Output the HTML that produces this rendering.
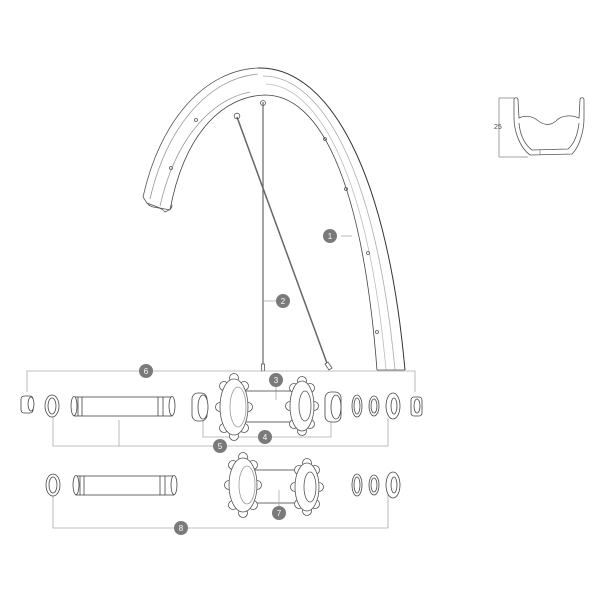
<!DOCTYPE html>
<html><head><meta charset="utf-8"><style>
html,body{margin:0;padding:0;background:#fff;width:600px;height:600px;overflow:hidden}
</style></head><body>
<svg width="600" height="600" viewBox="0 0 600 600" xmlns="http://www.w3.org/2000/svg" font-family="Liberation Sans, sans-serif">
<g fill="none" stroke="#555" stroke-width="0.8">
<path d="M143 197 C160 120 205 70 258 68" />
<path d="M150 199 C167 125 210 78 258 74" stroke="#999"/>
<path d="M258 68 C320 66 385 150 405 370" stroke="#333" stroke-width="1"/>
<path d="M263 76 C318 76 375 160 395 370" stroke="#aaa"/>
<path d="M266 84 C316 86 368 170 386 370" stroke="#bbb"/>
<path d="M170 210 C185 130 225 96 265 95 C318 95 362 175 377 370" stroke="#444"/>
<path d="M160 206 C175 140 210 100 250 92" stroke="#999"/>
<path d="M143 197 L147 203 L160 208 L170 210 M377 370 L405 370"/>
<path d="M147 203 C152 210 160 205 165 212 C168 210 172 210 172 205"/>
<circle cx="196" cy="120" r="1.5"/><circle cx="171" cy="168" r="1.5"/>
<circle cx="325" cy="139" r="1.5"/><circle cx="346" cy="189" r="1.5"/>
<circle cx="368" cy="253" r="1.5"/><circle cx="377" cy="332" r="1.5"/>
<line x1="263" y1="102" x2="263" y2="368" stroke="#666" stroke-width="1.2"/>
<line x1="237" y1="117" x2="328" y2="366" stroke="#666" stroke-width="1.5"/>
<rect x="261.5" y="364" width="3" height="7" fill="#fff"/>
<path d="M325 364 L329 370 L332 368 L328 362 Z" fill="#fff"/>
<circle cx="263" cy="103" r="2.5"/><circle cx="237" cy="116" r="2.8"/>
<path d="M514 100 L514 118 C514 128 518 146 530 155 L572 154 C581 145 584 128 584 118 L584 100 C584 97 580 97 580 100 L579 118 C570 114 560 116 556 121 C549 127 542 124 537 120 C532 116 525 115 519 118 L518 100 C518 97 514 97 514 100 Z"/>
<path d="M519 123 C520 134 524 144 532 150 L568 149 C575 143 578 132 579 123"/>
<line x1="540" y1="150" x2="540" y2="155" stroke="#888"/>
<line x1="499" y1="98" x2="514" y2="98" stroke="#888"/><line x1="499" y1="157" x2="528" y2="157" stroke="#888"/>
<line x1="499" y1="98" x2="499" y2="157" stroke="#888"/>
</g>
<text x="494" y="129" font-size="7" fill="#444">25</text>
<g fill="none" stroke="#aaa" stroke-width="0.8">
<polyline points="341,236 352,236"/>
<polyline points="264,301 276,301 M290,301 301,301"/>
<polyline points="27,392 27,371 415,371 415,392"/>
<polyline points="276,387 276,398"/>
<polyline points="203,420 203,437 331,437 331,420"/>
<polyline points="53,415 53,446 388,446 388,418"/>
<polyline points="119,420 119,446 M357,418 357,446 M374,418 374,446"/>
<polyline points="53,495 53,528 388,528 388,495 M105,490 105,528 M357,495 357,528 M374,495 374,528"/>
<polyline points="279,490 279,508"/>
</g>
<g fill="#fff" stroke="#444" stroke-width="0.8">
<rect x="21" y="396" width="12" height="17" rx="3"/><ellipse cx="31" cy="404" rx="3" ry="7"/>
<ellipse cx="52" cy="406" rx="7" ry="11"/><ellipse cx="52" cy="406" rx="4" ry="8"/>
<rect x="74" y="397" width="98" height="19" fill="#fff"/>
<ellipse cx="74" cy="406" rx="3" ry="9.5"/><ellipse cx="172" cy="406" rx="3" ry="9.5"/>
<line x1="78" y1="397" x2="78" y2="416"/><line x1="82" y1="397" x2="82" y2="416"/>
<line x1="158" y1="397" x2="158" y2="416"/><line x1="163" y1="397" x2="163" y2="416"/>
<rect x="192" y="393" width="15" height="28" rx="6"/><ellipse cx="203" cy="407" rx="5" ry="12"/>
<rect x="240" y="391" width="58" height="31"/>
<line x1="276" y1="391" x2="276" y2="400" stroke="#aaa"/>
</g>
<g fill="#fff" stroke="#555" stroke-width="0.8">
<circle cx="248" cy="407" r="4.5"/><circle cx="244" cy="428" r="4.5"/><circle cx="234" cy="436" r="4.5"/><circle cx="224" cy="428" r="4.5"/><circle cx="220" cy="407" r="4.5"/><circle cx="224" cy="386" r="4.5"/><circle cx="234" cy="378" r="4.5"/><circle cx="244" cy="386" r="4.5"/>
<ellipse cx="234" cy="407" rx="14" ry="28"/><ellipse cx="238" cy="407" rx="8" ry="20" stroke="#999"/>
<circle cx="314" cy="406" r="4.5"/><circle cx="310" cy="424" r="4.5"/><circle cx="302" cy="431" r="4.5"/><circle cx="294" cy="424" r="4.5"/><circle cx="290" cy="406" r="4.5"/><circle cx="294" cy="388" r="4.5"/><circle cx="302" cy="381" r="4.5"/><circle cx="310" cy="388" r="4.5"/>
<ellipse cx="302" cy="406" rx="12" ry="25"/><ellipse cx="305" cy="406" rx="6" ry="15"/>
</g>
<g fill="#fff" stroke="#444" stroke-width="0.8">
<rect x="325" y="392" width="16" height="30" rx="6"/><ellipse cx="336" cy="407" rx="5" ry="12"/>
<ellipse cx="357" cy="406" rx="5" ry="11"/><ellipse cx="357" cy="406" rx="3" ry="8"/>
<ellipse cx="374" cy="406" rx="5" ry="10"/><ellipse cx="374" cy="406" rx="3" ry="7"/>
<ellipse cx="393" cy="406" rx="7" ry="13"/><ellipse cx="394" cy="406" rx="3" ry="8"/>
<rect x="411" y="397" width="11" height="19" rx="3"/><ellipse cx="417" cy="406" rx="3" ry="7"/>
<ellipse cx="53" cy="485" rx="7" ry="11"/><ellipse cx="53" cy="485" rx="4" ry="8"/>
<rect x="76" y="476" width="98" height="19"/>
<ellipse cx="76" cy="485" rx="3" ry="9.5"/><ellipse cx="174" cy="485" rx="3" ry="9.5"/>
<line x1="80" y1="476" x2="80" y2="495"/><line x1="84" y1="476" x2="84" y2="495"/>
<line x1="160" y1="476" x2="160" y2="495"/><line x1="165" y1="476" x2="165" y2="495"/>
<rect x="250" y="470" width="50" height="33"/>
</g>
<g fill="#fff" stroke="#555" stroke-width="0.8">
<circle cx="257" cy="485" r="4.5"/><circle cx="253" cy="505" r="4.5"/><circle cx="243" cy="513" r="4.5"/><circle cx="233" cy="505" r="4.5"/><circle cx="229" cy="485" r="4.5"/><circle cx="233" cy="465" r="4.5"/><circle cx="243" cy="457" r="4.5"/><circle cx="253" cy="465" r="4.5"/>
<ellipse cx="243" cy="485" rx="14" ry="27"/><ellipse cx="247" cy="485" rx="8" ry="19" stroke="#999"/>
<circle cx="319" cy="487" r="4.5"/><circle cx="315" cy="504" r="4.5"/><circle cx="307" cy="511" r="4.5"/><circle cx="299" cy="504" r="4.5"/><circle cx="295" cy="487" r="4.5"/><circle cx="299" cy="470" r="4.5"/><circle cx="307" cy="463" r="4.5"/><circle cx="315" cy="470" r="4.5"/>
<ellipse cx="307" cy="487" rx="12" ry="24"/><ellipse cx="310" cy="487" rx="6" ry="15"/>
</g>
<g fill="#fff" stroke="#444" stroke-width="0.8">
<line x1="279" y1="490" x2="279" y2="506" stroke="#aaa"/>
<ellipse cx="357" cy="485" rx="5" ry="11"/><ellipse cx="357" cy="485" rx="3" ry="8"/>
<ellipse cx="374" cy="485" rx="5" ry="10"/><ellipse cx="374" cy="485" rx="3" ry="7"/>
<ellipse cx="393" cy="485" rx="7" ry="13"/><ellipse cx="394" cy="485" rx="3" ry="8"/>
</g>
<g fill="#7a7a7a">
<circle cx="330" cy="236" r="7"/><circle cx="283" cy="301" r="7"/><circle cx="276" cy="380" r="7"/>
<circle cx="265" cy="437" r="7"/><circle cx="220" cy="446" r="7"/><circle cx="146" cy="371" r="7"/>
<circle cx="279" cy="513" r="7"/><circle cx="181" cy="528" r="7"/>
</g>
<g fill="#fff" font-size="8" text-anchor="middle">
<text x="330" y="239">1</text><text x="283" y="304">2</text><text x="276" y="383">3</text>
<text x="265" y="440">4</text><text x="220" y="449">5</text><text x="146" y="374">6</text>
<text x="279" y="516">7</text><text x="181" y="531">8</text>
</g>
</svg>
</body></html>
